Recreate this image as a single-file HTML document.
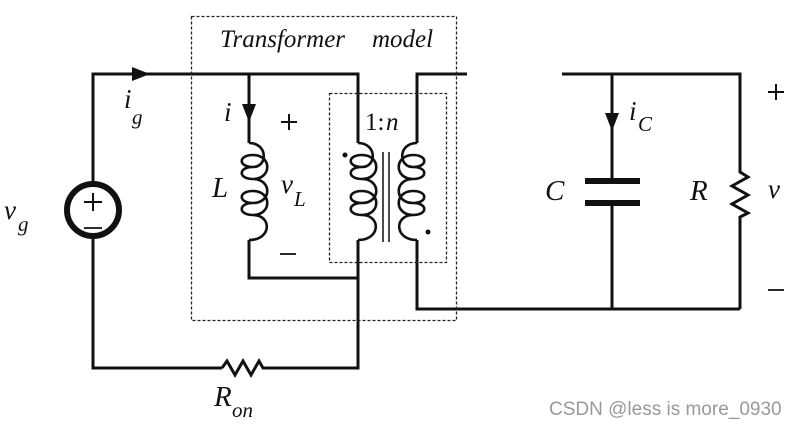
<!DOCTYPE html>
<html><head><style>
body{margin:0;background:#fff;}
svg{display:block;}
text{font-family:"Liberation Serif",serif;font-style:italic;fill:#111;}
.n{font-style:normal;}
</style></head><body>
<svg width="802" height="426" viewBox="0 0 802 426" xmlns="http://www.w3.org/2000/svg">
<g fill="none" stroke="#111" stroke-width="3" stroke-linejoin="miter">
<path d="M93 182 V74 H358 V143"/>
<path d="M93 238 V368 H222"/>
<path d="M222 368 l5 -7 l8 14 l8 -14 l8 14 l8 -14 l4 7 H358 V240"/>
<path d="M249 74 V143"/>
<path d="M249 240 V278 H358"/>
<path d="M467 74 H417 V143"/>
<path d="M417 240 V309 H740"/>
<path d="M562 74 H740 V172 l8 5 l-16 9 l16 9 l-16 9 l16 9 l-8 4 V309"/>
<path d="M612 74 V181 M612 203 V309"/>
</g>
<g fill="none" stroke="#111" stroke-width="2.6">
<path d="M249 143 C268 143 268 167 253 167 C238 167 238 155 253 155 C272 155 272 179 253 179 C238 179 238 167 253 167 M253 179 C272 179 272 203 253 203 C238 203 238 191 253 191 C272 191 272 215 253 215 C238 215 238 203 253 203 M253 215 C272 215 272 240 249 240"/>
<path d="M358 143 C377 143 377 167 362 167 C347 167 347 155 362 155 C381 155 381 179 362 179 C347 179 347 167 362 167 M362 179 C381 179 381 203 362 203 C347 203 347 191 362 191 C381 191 381 215 362 215 C347 215 347 203 362 203 M362 215 C381 215 381 240 358 240"/>
<path d="M417 143 C398 143 398 167 413 167 C428 167 428 155 413 155 C394 155 394 179 413 179 C428 179 428 167 413 167 M413 179 C394 179 394 203 413 203 C428 203 428 191 413 191 C394 191 394 215 413 215 C428 215 428 203 413 203 M413 215 C394 215 394 240 417 240"/>
</g>
<g stroke="#111" stroke-width="1.5">
<line x1="383" y1="152" x2="383" y2="242"/><line x1="389" y1="152" x2="389" y2="242"/>
</g>
<circle cx="345" cy="155" r="2.5" fill="#111"/>
<circle cx="428" cy="232" r="2.5" fill="#111"/>
<rect x="585" y="178" width="55" height="6" fill="#111"/>
<rect x="585" y="200" width="55" height="6" fill="#111"/>
<circle cx="93" cy="210" r="26" fill="#fff" stroke="#111" stroke-width="6"/>
<path d="M93 193 V211 M84 202 H102" stroke="#111" stroke-width="2"/>
<line x1="84" y1="228" x2="102" y2="228" stroke="#111" stroke-width="1.8"/>
<path d="M132 67 L150 74 L132 81 Z" fill="#111"/>
<path d="M242 104 L249 122 L256 104 Z" fill="#111"/>
<path d="M605 113 L612 131 L619 113 Z" fill="#111"/>
<rect x="191.5" y="16.5" width="265" height="304" fill="none" stroke="#222" stroke-width="1.3" stroke-dasharray="3,2"/>
<rect x="329.5" y="93.5" width="117" height="169" fill="none" stroke="#222" stroke-width="1.3" stroke-dasharray="3,2"/>
<text x="220" y="47" font-size="25">Transformer</text>
<text x="372" y="47" font-size="25">model</text>
<text x="124" y="108" font-size="27">i</text><text x="132" y="124" font-size="21">g</text>
<text x="224" y="121" font-size="27">i</text>
<path d="M289 114 V130 M281 122 H297" stroke="#111" stroke-width="2"/>
<line x1="280" y1="254" x2="296" y2="254" stroke="#111" stroke-width="1.8"/>
<text x="212" y="197" font-size="29">L</text>
<text x="281" y="193" font-size="27">v</text><text x="294" y="206" font-size="21">L</text>
<text x="365" y="130" class="n" font-size="25">1:</text><text x="386" y="130" font-size="25">n</text>
<text x="4" y="219" font-size="27">v</text><text x="18" y="231" font-size="21">g</text>
<text x="629" y="120" font-size="27">i</text><text x="638" y="131" font-size="21">C</text>
<text x="545" y="200" font-size="29">C</text>
<text x="690" y="200" font-size="29">R</text>
<text x="768" y="198" font-size="27">v</text>
<path d="M776 84 V100 M768 92 H784" stroke="#111" stroke-width="2"/>
<line x1="768" y1="290" x2="784" y2="290" stroke="#111" stroke-width="1.8"/>
<text x="214" y="406" font-size="29">R</text><text x="232" y="417" font-size="21">on</text>
<text x="549" y="415" class="n" font-size="19" style="font-family:'Liberation Sans',sans-serif;fill:#999">CSDN @less is more_0930</text>
</svg>
</body></html>
